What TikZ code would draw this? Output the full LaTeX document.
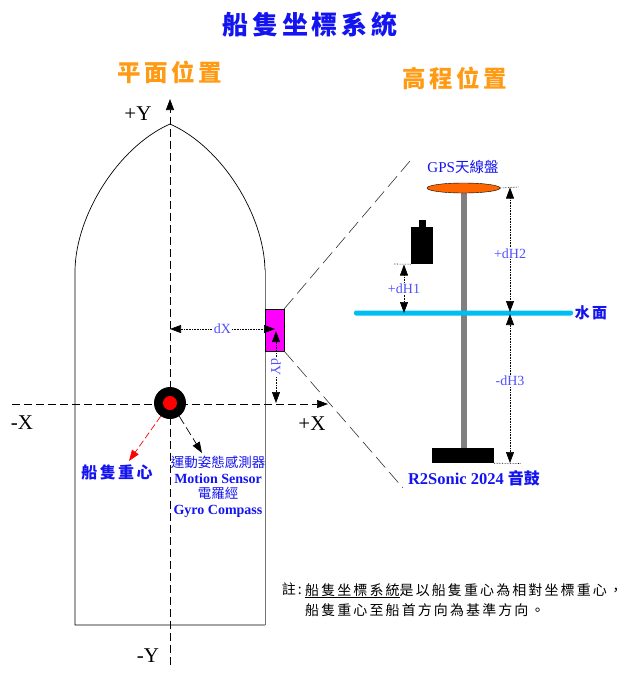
\documentclass[tikz,border=0pt]{standalone}
\usepackage{fontspec}
\usepackage{xcolor}
\setmainfont{Liberation Serif}
\newfontfamily\cjk{Noto Sans CJK TC}
\newfontfamily\cjkwide[LetterSpace=15]{Noto Sans CJK TC}
\usetikzlibrary{arrows.meta,shapes.geometric,positioning}
\definecolor{shipblue}{HTML}{1414F0}
\definecolor{dimblue}{HTML}{5050FF}
\definecolor{titleorange}{HTML}{FF9A14}
\definecolor{watercyan}{HTML}{00BEF2}
\definecolor{discorange}{HTML}{FF6600}
\definecolor{boxmagenta}{HTML}{FF00FF}
\newcommand{\fsize}[1]{\fontsize{#1}{#1}\selectfont}
\begin{document}
\begin{tikzpicture}[x=1pt,y=-1pt,
  tip/.style={-{Triangle[length=11pt,width=8pt]}},
  axis/.style={tip,dash pattern=on 8pt off 4pt,line width=.7pt},
  guide/.style={dash pattern=on 14pt off 6pt,line width=.6pt,black!80},
  dimline/.style={{Triangle[length=11pt,width=8pt]}-{Triangle[length=11pt,width=8pt]},densely dotted,line width=.6pt},
  tick/.style={densely dotted,line width=.6pt},
  dimlabel/.style={text=dimblue,fill=white,inner sep=1pt,font=\fsize{14}},
  axlabel/.style={font=\fsize{21}},
  heading/.style={text=titleorange,font=\cjkwide\bfseries\fsize{23.5}},
  namelabel/.style={text=shipblue,inner sep=0pt}]
\useasboundingbox (0,0) rectangle (626,681);
\node[namelabel,font=\cjkwide\bfseries\fsize{26}] (title) at (310,25) {船隻坐標系統};
\node[heading] (plan) at (170,72) {平面位置};
\node[heading] (height) at (455,78) {高程位置};
% ship
\draw[line width=.7pt] (265,625) -- (75,625) -- (75,270) .. controls (76,215) and (118,147) .. (170,124) .. controls (222,147) and (264,215) .. (265,270);
\draw[line width=1pt,black!55] (265,270) -- (265,625);
\coordinate (ybottom) at (170,665);
\coordinate (ytop) at (170,99);
\coordinate (xleft) at (12,404);
\coordinate (xright) at (328,404);
\draw[axis] (ybottom) -- (ytop);
\draw[axis] (xleft) -- (xright);
\node[axlabel] (plusy) at (138,114) {+Y};
\node[axlabel] (minusy) at (148,656) {-Y};
\node[axlabel] (minusx) at (22,423) {-X};
\node[axlabel] (plusx) at (312,424) {+X};
\node[circle,fill=black,minimum size=32pt,inner sep=0pt] (cg) at (170,403) {};
\node[circle,fill=red,minimum size=14pt,inner sep=0pt] (cgdot) at (cg) {};
\node[namelabel,font=\cjkwide\bfseries\fsize{16}] (cglabel) at (117,472) {船隻重心};
\node[namelabel,align=center,font=\bfseries\fsize{14}] (motion) at (218,487)
  {{\cjk\mdseries\fsize{13.5}運動姿態感測器}\\[1.5pt]Motion Sensor\\[1.5pt]{\cjk\mdseries\fsize{13.5}電羅經}\\[2pt]Gyro Compass};
\coordinate (cgtip) at (129,461);
\coordinate (motiontip) at (202,453);
\draw[tip,red,dash pattern=on 7pt off 3pt,line width=.7pt] (cg.235) -- (cgtip);
\draw[tip,dash pattern=on 9pt off 4pt,line width=.7pt] (cg.-55) -- (motiontip);
% sensor box
\node[draw=black,fill=boxmagenta,line width=.5pt,minimum width=19pt,minimum height=42pt,inner sep=0pt] (box) at (274.5,330) {};
\coordinate (guideup) at (410,161);
\coordinate (guidedown) at (403,488);
\draw[guide] (box.north east) -- (guideup);
\draw[guide] (box.south east) -- (guidedown);
\coordinate (dxleft) at (170,329);
\coordinate (dxright) at (275,329);
\draw[dimline] (dxleft) -- node[dimlabel] (dxlabel) {dX} (dxright);
\coordinate (dytop) at (276,331);
\coordinate (dybottom) at (276,403);
\draw[dimline] (dytop) -- node[dimlabel,rotate=-90,pos=.5] (dylabel) {dY} (dybottom);
% elevation
\node[rectangle,fill=black!50,minimum width=6pt,minimum height=260pt,inner sep=0pt] (pole) at (464,320) {};
\node[fill=watercyan,minimum width=219pt,minimum height=5pt,inner sep=0pt,rounded corners=2pt] (water) at (463.5,313) {};
\node[draw=black,line width=.4pt,ellipse,fill=discorange,minimum width=73pt,minimum height=10pt,inner sep=0pt] (gps) at (463.5,188) {};
\node[fill=black,minimum width=62pt,minimum height=15pt,inner sep=0pt] (sonar) at (463,455.5) {};
\node[fill=black,minimum width=22pt,minimum height=37pt,inner sep=0pt] (imu) at (422,245.5) {};
\node[fill=black,minimum width=7pt,minimum height=7pt,inner sep=0pt,above=0pt of imu] (imucap) {};
\node[namelabel,font=\fsize{15}] (gpslabel) at (463,167) {GPS{\cjk\fsize{14.5}天線盤}};
\node[namelabel,font=\cjkwide\bfseries\fsize{15}] (waterlabel) at (591,313) {水面};
\node[namelabel,font=\bfseries\fsize{16.5}] (sonarlabel) at (474,478) {R2Sonic 2024 {\cjk\fsize{16}音鼓}};
\coordinate (imutick) at (394,264);
\coordinate (gpstick) at (519,187);
\coordinate (sonartick) at (521,463.5);
\draw[tick] (imutick) -- (imu.south west);
\draw[tick] (gps.east) -- (gpstick);
\draw[tick] (sonar.south east) -- (sonartick);
\coordinate (hone) at (404,264.5);
\coordinate (honew) at (404,313);
\coordinate (htwo) at (510,187.5);
\coordinate (htwow) at (510,312);
\coordinate (hthreew) at (510,314);
\coordinate (hthree) at (510,463);
\draw[dimline] (hone) -- node[dimlabel,pos=.5] (honelabel) {+dH1} (honew);
\draw[dimline] (htwo) -- node[dimlabel,pos=.53] (htwolabel) {+dH2} (htwow);
\draw[dimline] (hthreew) -- node[dimlabel,pos=.45] (hthreelabel) {-dH3} (hthree);
% note
\node[font=\cjkwide\fsize{14},inner sep=0pt,anchor=north west,align=left] (notetext) at (305,583) {\underline{船隻坐標系統}是以船隻重心為相對坐標重心，\\[4pt]船隻重心至船首方向為基準方向。};
\node[font=\cjkwide\fsize{14},inner sep=0pt,anchor=north east,xshift=-3pt] (notemark) at (notetext.north west) {註:};
\end{tikzpicture}
\end{document}
